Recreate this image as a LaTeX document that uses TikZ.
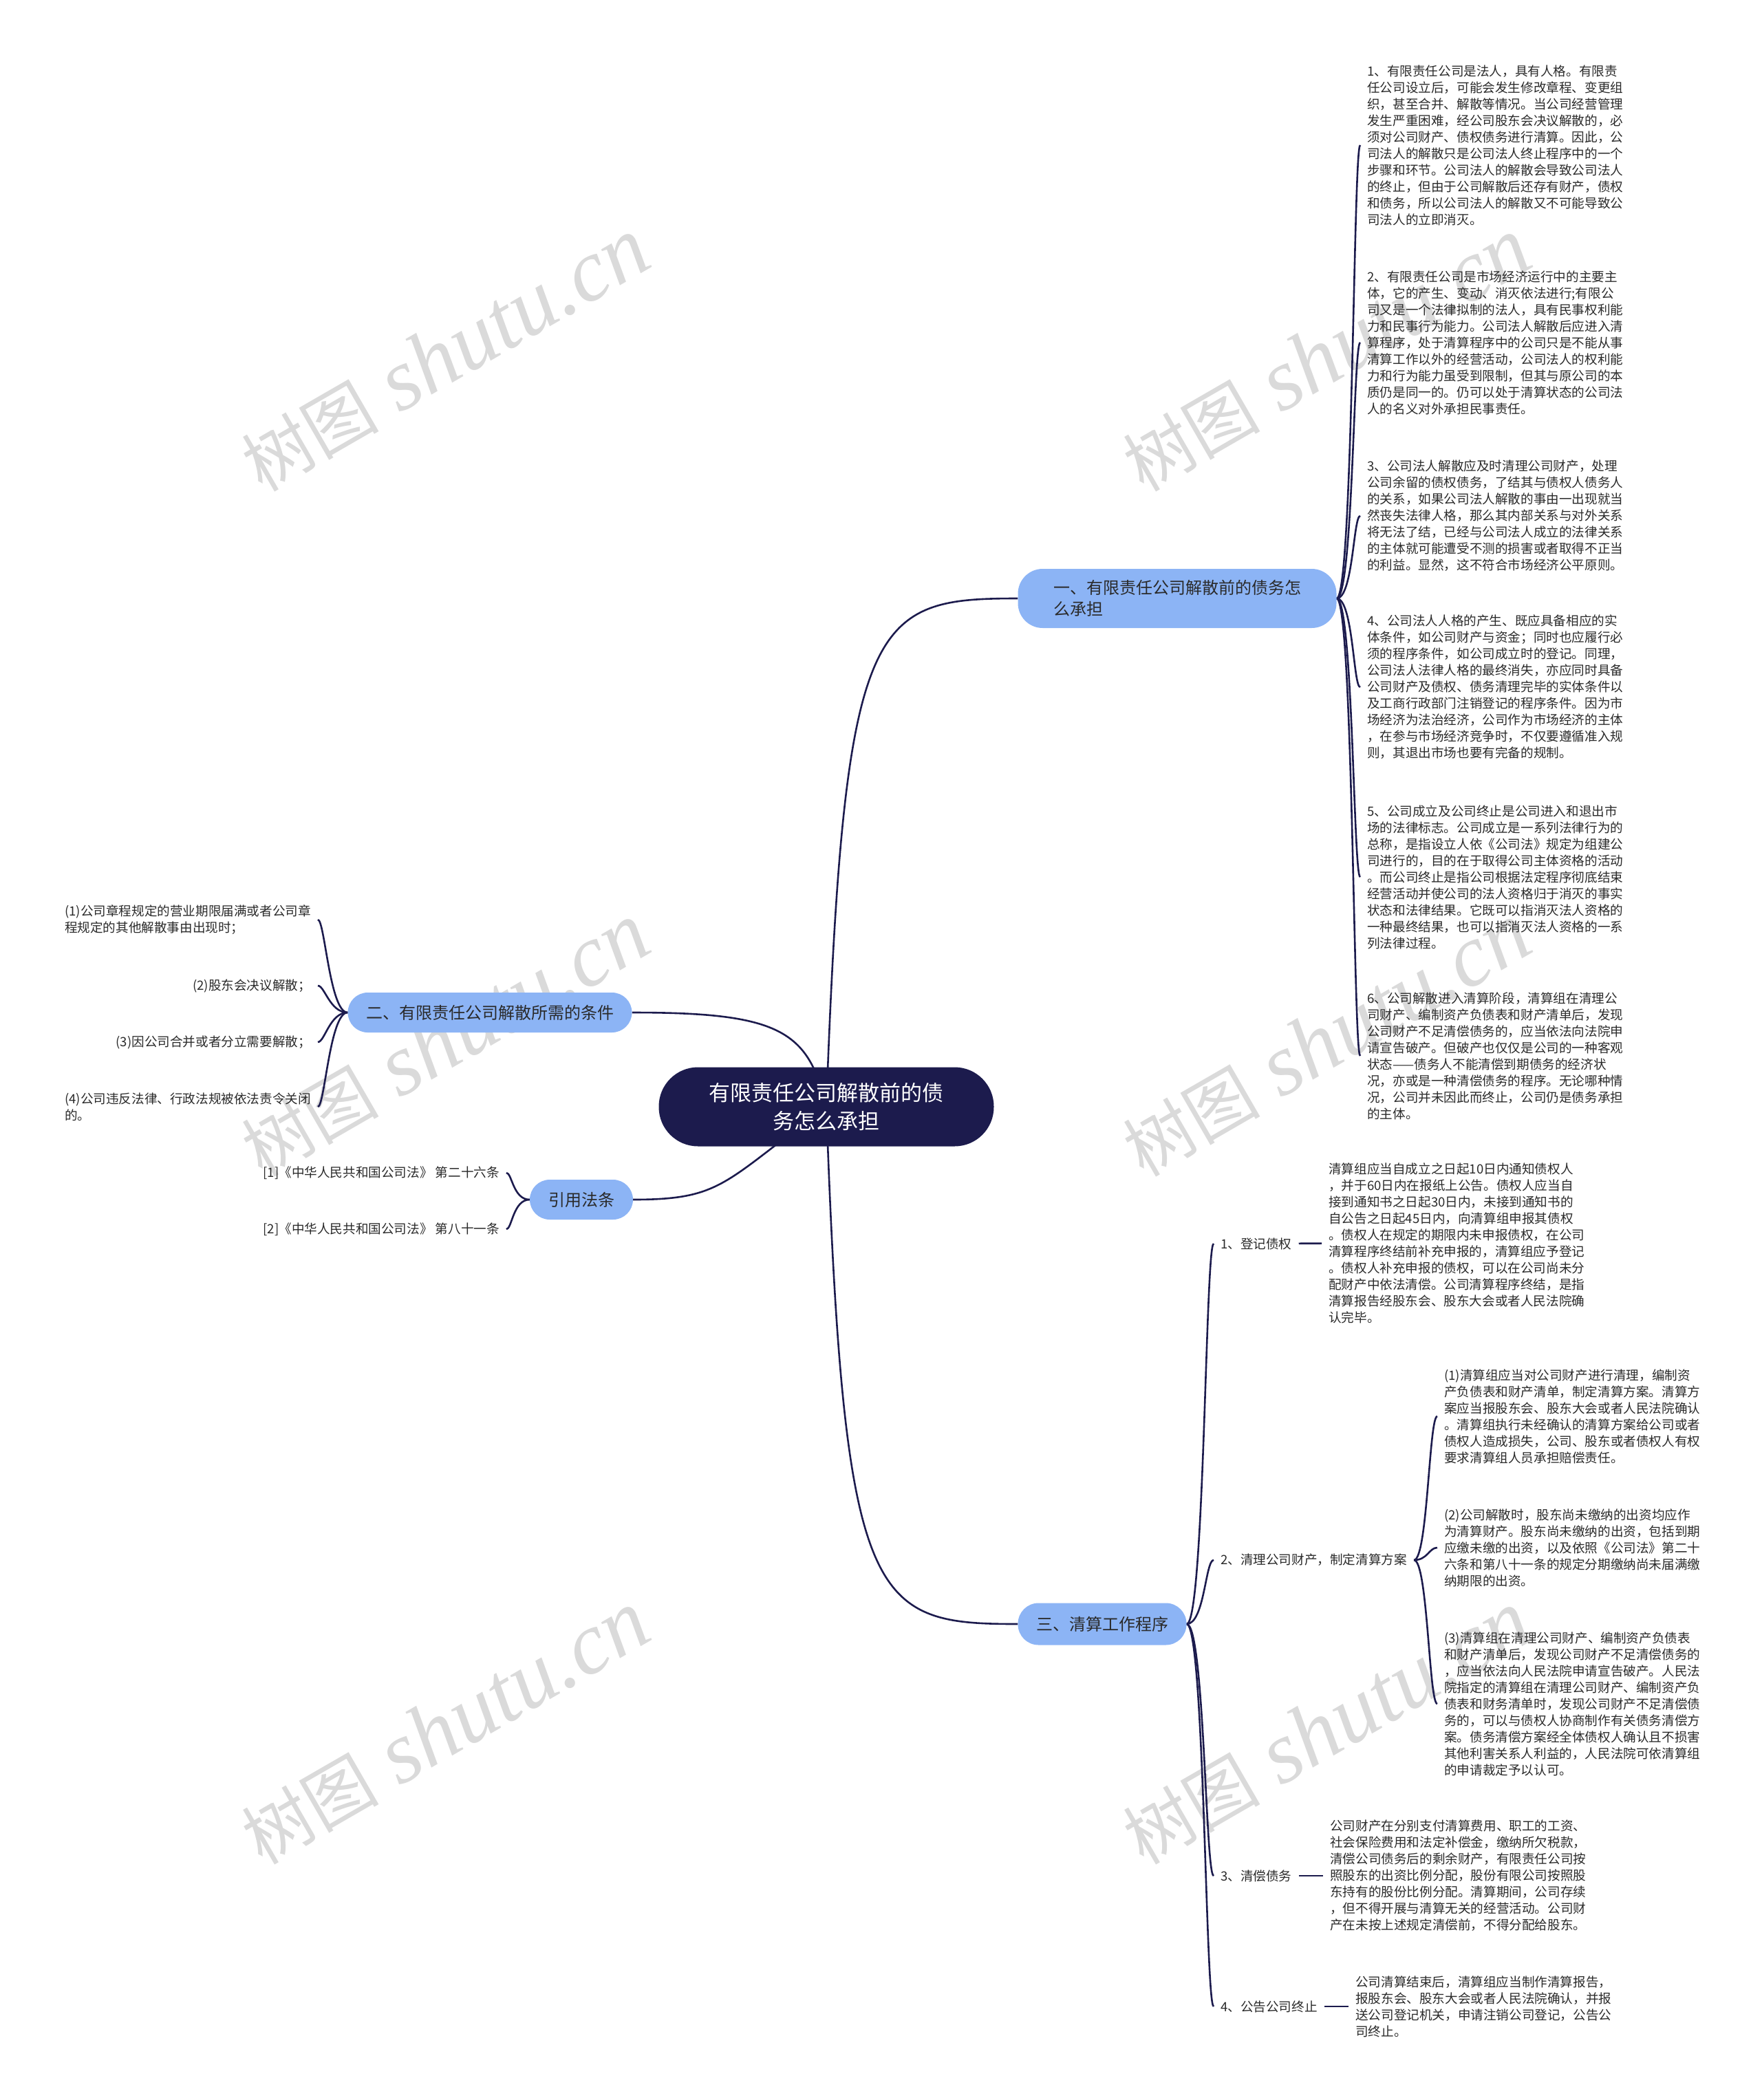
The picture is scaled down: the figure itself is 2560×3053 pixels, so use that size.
\documentclass[tikz,border=0pt]{standalone}
\usepackage{fontspec}
\setmainfont{Noto Sans CJK SC}
\newfontfamily\wmserif{Liberation Serif}
\usepackage{tikz}
\usetikzlibrary{backgrounds}
\definecolor{shuNavy}{HTML}{1C1B4D}
\definecolor{shuBlue}{HTML}{8CB4F5}
\definecolor{shuInk}{HTML}{2A2A2A}
\definecolor{shuMark}{HTML}{DADADA}

\begin{document}
\begin{tikzpicture}[
  x=1pt, y=1pt,
  root/.style={fill=shuNavy, text=white, rounded corners=57pt, minimum width=487pt, minimum height=115pt, align=center, font=\fontsize{31}{41}\selectfont},
  branch/.style={fill=shuBlue, text=shuInk, rounded corners=29pt, minimum height=58pt, align=left, font=\fontsize{24}{31}\selectfont},
  leaf/.style={text=shuInk, align=left, inner xsep=10pt, inner ysep=4pt, font=\fontsize{18.6}{24}\selectfont},
  link/.style={draw=shuNavy, line width=2.6pt},
  wmark/.style={text=shuMark, rotate=30, inner sep=0pt}
]
  \useasboundingbox (0,0) rectangle (2560,-3053);

  \node[root] (root) at (1201,-1609) {有限责任公司解散前的债\\务怎么承担};

  \node[branch, minimum width=463pt, minimum height=86pt, rounded corners=36pt] (b1) at (1711,-870) {一、有限责任公司解散前的债务怎\\么承担};
  \node[branch, minimum width=413pt] (b2) at (712,-1472) {二、有限责任公司解散所需的条件};
  \node[branch, minimum width=150pt] (b3) at (845,-1744) {引用法条};
  \node[branch, minimum width=245pt, minimum height=61pt, rounded corners=30pt] (b4) at (1602,-2361) {三、清算工作程序};

  \node[leaf, anchor=west] (l11) at (1977,-211) {1、有限责任公司是法人，具有人格。有限责\\任公司设立后，可能会发生修改章程、变更组\\织，甚至合并、解散等情况。当公司经营管理\\发生严重困难，经公司股东会决议解散的，必\\须对公司财产、债权债务进行清算。因此，公\\司法人的解散只是公司法人终止程序中的一个\\步骤和环节。公司法人的解散会导致公司法人\\的终止，但由于公司解散后还存有财产，债权\\和债务，所以公司法人的解散又不可能导致公\\司法人的立即消灭。};
  \node[leaf, anchor=west] (l12) at (1977,-498) {2、有限责任公司是市场经济运行中的主要主\\体，它的产生、变动、消灭依法进行;有限公\\司又是一个法律拟制的法人，具有民事权利能\\力和民事行为能力。公司法人解散后应进入清\\算程序，处于清算程序中的公司只是不能从事\\清算工作以外的经营活动，公司法人的权利能\\力和行为能力虽受到限制，但其与原公司的本\\质仍是同一的。仍可以处于清算状态的公司法\\人的名义对外承担民事责任。};
  \node[leaf, anchor=west] (l13) at (1977,-750) {3、公司法人解散应及时清理公司财产，处理\\公司余留的债权债务，了结其与债权人债务人\\的关系，如果公司法人解散的事由一出现就当\\然丧失法律人格，那么其内部关系与对外关系\\将无法了结，已经与公司法人成立的法律关系\\的主体就可能遭受不测的损害或者取得不正当\\的利益。显然，这不符合市场经济公平原则。};
  \node[leaf, anchor=west] (l14) at (1977,-999) {4、公司法人人格的产生、既应具备相应的实\\体条件，如公司财产与资金；同时也应履行必\\须的程序条件，如公司成立时的登记。同理，\\公司法人法律人格的最终消失，亦应同时具备\\公司财产及债权、债务清理完毕的实体条件以\\及工商行政部门注销登记的程序条件。因为市\\场经济为法治经济，公司作为市场经济的主体\\，在参与市场经济竞争时，不仅要遵循准入规\\则，其退出市场也要有完备的规制。};
  \node[leaf, anchor=west] (l15) at (1977,-1275) {5、公司成立及公司终止是公司进入和退出市\\场的法律标志。公司成立是一系列法律行为的\\总称，是指设立人依《公司法》规定为组建公\\司进行的，目的在于取得公司主体资格的活动\\。而公司终止是指公司根据法定程序彻底结束\\经营活动并使公司的法人资格归于消灭的事实\\状态和法律结果。它既可以指消灭法人资格的\\一种最终结果，也可以指消灭法人资格的一系\\列法律过程。};
  \node[leaf, anchor=west] (l16) at (1977,-1535) {6、公司解散进入清算阶段，清算组在清理公\\司财产、编制资产负债表和财产清单后，发现\\公司财产不足清偿债务的，应当依法向法院申\\请宣告破产。但破产也仅仅是公司的一种客观\\状态——债务人不能清偿到期债务的经济状\\况，亦或是一种清偿债务的程序。无论哪种情\\况，公司并未因此而终止，公司仍是债务承担\\的主体。};

  \node[leaf, anchor=east] (l21) at (462,-1337) {(1)公司章程规定的营业期限届满或者公司章\\程规定的其他解散事由出现时；};
  \node[leaf, anchor=east] (l22) at (462,-1433) {(2)股东会决议解散；};
  \node[leaf, anchor=east] (l23) at (462,-1515) {(3)因公司合并或者分立需要解散；};
  \node[leaf, anchor=east] (l24) at (462,-1609) {(4)公司违反法律、行政法规被依法责令关闭\\的。};

  \node[leaf, anchor=east] (l31) at (736,-1705) {[1]《中华人民共和国公司法》 第二十六条};
  \node[leaf, anchor=east] (l32) at (736,-1787) {[2]《中华人民共和国公司法》 第八十一条};

  \node[leaf, anchor=west] (s1) at (1764,-1808) {1、登记债权};
  \node[leaf, anchor=west] (s2) at (1764,-2268) {2、清理公司财产，制定清算方案};
  \node[leaf, anchor=west] (s3) at (1764,-2727) {3、清偿债务};
  \node[leaf, anchor=west] (s4) at (1764,-2917) {4、公告公司终止};

  \node[leaf, anchor=west] (l41) at (1921,-1807) {清算组应当自成立之日起10日内通知债权人\\，并于60日内在报纸上公告。债权人应当自\\接到通知书之日起30日内，未接到通知书的\\自公告之日起45日内，向清算组申报其债权\\。债权人在规定的期限内未申报债权，在公司\\清算程序终结前补充申报的，清算组应予登记\\。债权人补充申报的债权，可以在公司尚未分\\配财产中依法清偿。公司清算程序终结，是指\\清算报告经股东会、股东大会或者人民法院确\\认完毕。};
  \node[leaf, anchor=west] (l42a) at (2089,-2059) {(1)清算组应当对公司财产进行清理，编制资\\产负债表和财产清单，制定清算方案。清算方\\案应当报股东会、股东大会或者人民法院确认\\。清算组执行未经确认的清算方案给公司或者\\债权人造成损失，公司、股东或者债权人有权\\要求清算组人员承担赔偿责任。};
  \node[leaf, anchor=west] (l42b) at (2089,-2250) {(2)公司解散时，股东尚未缴纳的出资均应作\\为清算财产。股东尚未缴纳的出资，包括到期\\应缴未缴的出资，以及依照《公司法》第二十\\六条和第八十一条的规定分期缴纳尚未届满缴\\纳期限的出资。};
  \node[leaf, anchor=west] (l42c) at (2089,-2477) {(3)清算组在清理公司财产、编制资产负债表\\和财产清单后，发现公司财产不足清偿债务的\\，应当依法向人民法院申请宣告破产。人民法\\院指定的清算组在清理公司财产、编制资产负\\债表和财务清单时，发现公司财产不足清偿债\\务的，可以与债权人协商制作有关债务清偿方\\案。债务清偿方案经全体债权人确认且不损害\\其他利害关系人利益的，人民法院可依清算组\\的申请裁定予以认可。};
  \node[leaf, anchor=west] (l43) at (1923,-2727) {公司财产在分别支付清算费用、职工的工资、\\社会保险费用和法定补偿金，缴纳所欠税款，\\清偿公司债务后的剩余财产，有限责任公司按\\照股东的出资比例分配，股份有限公司按照股\\东持有的股份比例分配。清算期间，公司存续\\，但不得开展与清算无关的经营活动。公司财\\产在未按上述规定清偿前，不得分配给股东。};
  \node[leaf, anchor=west] (l44) at (1960,-2917) {公司清算结束后，清算组应当制作清算报告，\\报股东会、股东大会或者人民法院确认，并报\\送公司登记机关，申请注销公司登记，公告公\\司终止。};

  \begin{scope}[on background layer]
    \foreach \wx/\wy [count=\wi] in {647/-516, 1928/-516, 647/-1512, 1928/-1512, 647/-2512, 1928/-2512}
      \node[wmark] (wm\wi) at (\wx,\wy) {\fontsize{100}{100}\selectfont 树图\hspace{30pt}{\wmserif\itshape\fontsize{128}{128}\selectfont shutu.cn}};

    \draw[link] (root.center) .. controls +(26,713) and +(-214,0) .. (b1.west);
    \draw[link] (root.center) .. controls +(-26,111) and +(214,0) .. (b2.east);
    \draw[link] (root.center) .. controls +(-150,-110) and +(130,0) .. (b3.east);
    \draw[link] (root.center) .. controls +(26,-726) and +(-214,0) .. (b4.west);

    \foreach \l in {l11,l12,l13,l14,l15,l16}
      \draw[link] (b1.east) .. controls +(24,0) and +(-10,0) .. (\l.west);
    \foreach \l in {l21,l22,l23,l24}
      \draw[link] (b2.west) .. controls +(-26,0) and +(10,0) .. (\l.east);
    \foreach \l in {l31,l32}
      \draw[link] (b3.west) .. controls +(-24,0) and +(8,0) .. (\l.east);
    \foreach \s in {s1,s2,s3,s4}
      \draw[link] (b4.east) .. controls +(26,0) and +(-12,0) .. (\s.west);
    \foreach \l in {l42a,l42b,l42c}
      \draw[link] (s2.east) .. controls +(20,0) and +(-12,0) .. (\l.west);
    \draw[link] (s1) -- (l41);
    \draw[link] (s3) -- (l43);
    \draw[link] (s4) -- (l44);
  \end{scope}
\end{tikzpicture}
\end{document}
